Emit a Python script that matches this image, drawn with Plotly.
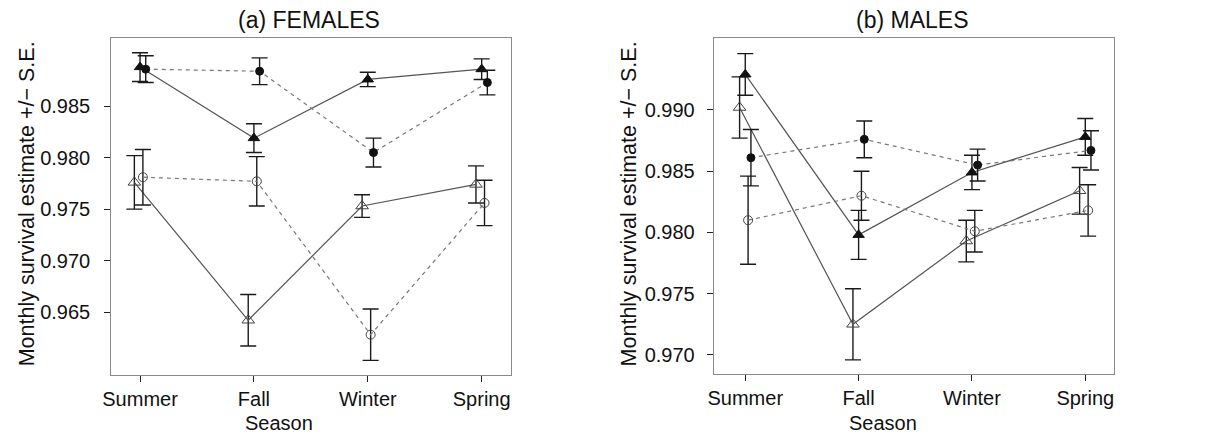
import plotly.graph_objects as go

# Seasons on the x axis
seasons = ["Summer", "Fall", "Winter", "Spring"]

# (a) FEMALES: monthly survival estimates and standard errors
fem_tri_filled = [0.9888, 0.9819, 0.9876, 0.9886]
fem_tri_filled_se = [0.0014, 0.0014, 0.0007, 0.0010]
fem_circ_filled = [0.9886, 0.9884, 0.9805, 0.9873]
fem_circ_filled_se = [0.0013, 0.0013, 0.0014, 0.0012]
fem_tri_open = [0.9776, 0.9642, 0.9753, 0.9774]
fem_tri_open_se = [0.0026, 0.0025, 0.0011, 0.0018]
fem_circ_open = [0.9781, 0.9777, 0.9628, 0.9756]
fem_circ_open_se = [0.0027, 0.0024, 0.0025, 0.0022]

# (b) MALES
mal_tri_filled = [0.9929, 0.9798, 0.9849, 0.9878]
mal_tri_filled_se = [0.0017, 0.0020, 0.0014, 0.0015]
mal_circ_filled = [0.9861, 0.9876, 0.9855, 0.9867]
mal_circ_filled_se = [0.0023, 0.0015, 0.0013, 0.0016]
mal_tri_open = [0.9902, 0.9725, 0.9793, 0.9834]
mal_tri_open_se = [0.0025, 0.0029, 0.0017, 0.0019]
mal_circ_open = [0.9810, 0.9830, 0.9801, 0.9818]
mal_circ_open_se = [0.0036, 0.0020, 0.0017, 0.0021]

fem_yticks = [0.965, 0.970, 0.975, 0.980, 0.985]
mal_yticks = [0.970, 0.975, 0.980, 0.985, 0.990]

FONT = "Liberation Sans, Arial, Helvetica, sans-serif"
W, H = 1219, 438

# Style per series: small horizontal dodge so error bars do not overlap
styles = {
    "tri_open":    dict(dx=-0.05, symbol="triangle-up-open", size=11, mcolor="#444444",
                        lcolor="#555555", dash="solid"),
    "tri_filled":  dict(dx=0.0, symbol="triangle-up", size=10, mcolor="#111111",
                        lcolor="#555555", dash="solid"),
    "circ_open":   dict(dx=0.025, symbol="circle-open", size=9, mcolor="#444444",
                        lcolor="#777777", dash="4px,4px"),
    "circ_filled": dict(dx=0.05, symbol="circle", size=8, mcolor="#111111",
                        lcolor="#777777", dash="4px,4px"),
}

panels = [
    ("x", "y", {
        "tri_open": (fem_tri_open, fem_tri_open_se),
        "tri_filled": (fem_tri_filled, fem_tri_filled_se),
        "circ_open": (fem_circ_open, fem_circ_open_se),
        "circ_filled": (fem_circ_filled, fem_circ_filled_se),
    }),
    ("x2", "y2", {
        "tri_open": (mal_tri_open, mal_tri_open_se),
        "tri_filled": (mal_tri_filled, mal_tri_filled_se),
        "circ_open": (mal_circ_open, mal_circ_open_se),
        "circ_filled": (mal_circ_filled, mal_circ_filled_se),
    }),
]

fig = go.Figure()

for xa, ya, series in panels:
    for key, (vals, se) in series.items():
        st = styles[key]
        xs = [i + 1 + st["dx"] for i in range(len(seasons))]
        fig.add_trace(go.Scatter(
            x=xs, y=vals, xaxis=xa, yaxis=ya, mode="lines+markers", name=key,
            line=dict(color=st["lcolor"], width=1.2, dash=st["dash"]),
            marker=dict(symbol=st["symbol"], size=st["size"], color=st["mcolor"],
                        line=dict(color=st["mcolor"], width=1)),
            error_y=dict(type="data", array=se, visible=True, color="#1a1a1a",
                         thickness=1.4, width=8),
            showlegend=False, hoverinfo="skip",
        ))

axis_common = dict(showline=True, mirror=True, linecolor="#8a8a8a", linewidth=1,
                   showgrid=False, zeroline=False, ticks="outside", ticklen=6,
                   tickcolor="#222222", tickwidth=1,
                   tickfont=dict(family=FONT, size=20, color="#111111"))

fig.update_layout(
    width=W, height=H, margin=dict(l=0, r=0, t=0, b=0),
    paper_bgcolor="white", plot_bgcolor="white", showlegend=False,
    xaxis=dict(domain=[103 / W, 506 / W], range=[0.747, 4.26], anchor="y",
               tickvals=[1, 2, 3, 4], ticktext=seasons, **axis_common),
    yaxis=dict(domain=[1 - 375 / H, 1 - 38.3 / H], range=[0.95888, 0.9916], anchor="x",
               tickvals=fem_yticks, tickformat=".3f", ticklabelstandoff=10, **axis_common),
    xaxis2=dict(domain=[710 / W, 1113.3 / W], range=[0.722, 4.254], anchor="y2",
                tickvals=[1, 2, 3, 4], ticktext=seasons, **axis_common),
    yaxis2=dict(domain=[1 - 374.3 / H, 1 - 38.3 / H], range=[0.96842, 0.99585], anchor="x2",
                tickvals=mal_yticks, tickformat=".3f", ticklabelstandoff=8, **axis_common),
)

ylab = "Monthly survival estimate +/\u2212 S.E."
annots = [
    dict(text="(a) FEMALES", x=302 / W, y=1 - 20 / H, size=23),
    dict(text="(b) MALES", x=910 / W, y=1 - 20 / H, size=23),
    dict(text="Season", x=272 / W, y=1 - 423 / H, size=20),
    dict(text="Season", x=880 / W, y=1 - 423 / H, size=20),
    dict(text=ylab, x=18.5 / W, y=1 - 204 / H, size=21.5, textangle=-90),
    dict(text=ylab, x=625 / W, y=1 - 204 / H, size=21.5, textangle=-90),
]
for a in annots:
    fig.add_annotation(text=a["text"], x=a["x"], y=a["y"], xref="paper", yref="paper",
                       xanchor="center", yanchor="middle", showarrow=False,
                       textangle=a.get("textangle", 0),
                       font=dict(family=FONT, size=a["size"], color="#111111"))

fig.write_html("out.html")
